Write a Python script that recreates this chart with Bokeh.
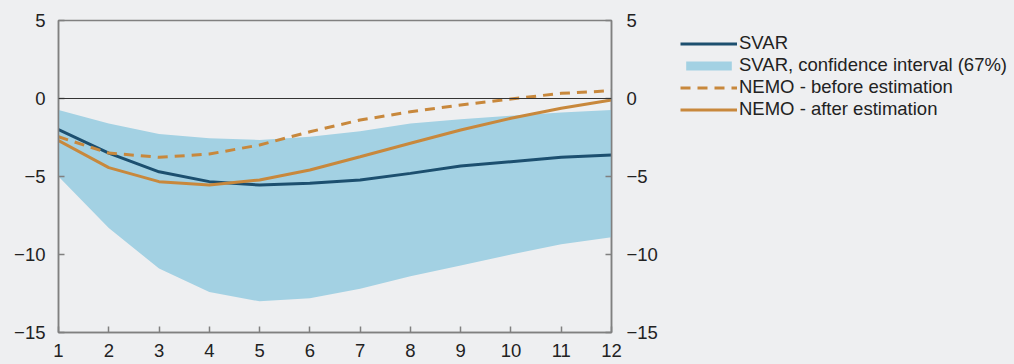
from bokeh.plotting import figure
from bokeh.layouts import row
from bokeh.models import Legend, LegendItem, LinearAxis, FixedTicker, Span, ColumnDataSource
from bokeh.embed import file_html
from bokeh.resources import INLINE

# ---- data ----
periods = list(range(1, 13))
svar = [-2.0, -3.5, -4.7, -5.33, -5.55, -5.44, -5.22, -4.8, -4.33, -4.05, -3.77, -3.62]
ci_upper = [-0.74, -1.6, -2.28, -2.55, -2.66, -2.45, -2.1, -1.6, -1.33, -1.1, -0.89, -0.74]
ci_lower = [-5.0, -8.3, -10.9, -12.4, -13.0, -12.8, -12.2, -11.4, -10.7, -10.0, -9.35, -8.9]
nemo_before = [-2.45, -3.5, -3.77, -3.56, -2.98, -2.13, -1.38, -0.85, -0.42, -0.03, 0.33, 0.5]
nemo_after = [-2.7, -4.43, -5.33, -5.55, -5.22, -4.58, -3.73, -2.87, -2.02, -1.27, -0.63, -0.1]
y_ticks = [-15, -10, -5, 0, 5]
y_tick_labels = ["\u221215", "\u221210", "\u22125", "0", "5"]
x_ticks = periods
x_tick_labels = [str(v) for v in periods]
legend_labels = ["SVAR", "SVAR, confidence interval (67%)",
                 "NEMO - before estimation", "NEMO - after estimation"]

BG = "#eeeff1"
DARK_BLUE = "#1c4f6f"
LIGHT_BLUE = "#a3d1e3"
ORANGE = "#c8883c"
FRAME = "#808080"
FONT = "Liberation Sans"
FS = "18.5px"

src = ColumnDataSource(dict(x=periods, svar=svar, lo=ci_lower, hi=ci_upper,
                            nb=nemo_before, na=nemo_after))

p = figure(width=672, height=364, x_range=(1, 12), y_range=(-15, 5),
           output_backend="svg", toolbar_location=None,
           min_border_left=58, min_border_right=61,
           min_border_top=20, min_border_bottom=32)
p.background_fill_color = BG
p.border_fill_color = BG
p.outline_line_color = FRAME
p.outline_line_width = 1.5
p.grid.visible = False

p.varea(x="x", y1="lo", y2="hi", source=src, fill_color=LIGHT_BLUE, fill_alpha=1.0)
p.add_layout(Span(location=0, dimension="width", line_color="#333333", line_width=1.2))
p.line(x="x", y="svar", source=src, line_color=DARK_BLUE, line_width=3)
p.line(x="x", y="nb", source=src, line_color=ORANGE, line_width=3, line_dash="10 7")
p.line(x="x", y="na", source=src, line_color=ORANGE, line_width=3)

def style_axis(ax, ticks, labels, standoff):
    ax.ticker = FixedTicker(ticks=ticks)
    ax.major_label_overrides = {t: l for t, l in zip(ticks, labels)}
    ax.major_tick_in = 6
    ax.major_tick_out = 0
    ax.minor_tick_line_color = None
    ax.major_tick_line_color = FRAME
    ax.major_tick_line_width = 1.5
    ax.axis_line_color = FRAME
    ax.axis_line_width = 1.5
    ax.major_label_text_font = FONT
    ax.major_label_text_font_size = FS
    ax.major_label_text_color = "#222222"
    ax.major_label_standoff = standoff

style_axis(p.xaxis[0], x_ticks, x_tick_labels, 11)
style_axis(p.yaxis[0], y_ticks, y_tick_labels, 13)
right_axis = LinearAxis()
style_axis(right_axis, y_ticks, y_tick_labels, 15)
p.add_layout(right_axis, "right")

# ---- legend panel (separate figure to the right; its series lie outside its range) ----
lg = figure(width=342, height=364, x_range=(100, 101), y_range=(100, 101),
            output_backend="svg", toolbar_location=None,
            x_axis_location=None, y_axis_location=None,
            min_border=0)
lg.background_fill_color = BG
lg.border_fill_color = BG
lg.outline_line_color = None
lg.grid.visible = False
r1 = lg.line(x="x", y="svar", source=src, line_color=DARK_BLUE, line_width=3)
r2 = lg.varea(x="x", y1="lo", y2="hi", source=src, fill_color=LIGHT_BLUE, fill_alpha=1.0)
r3 = lg.line(x="x", y="nb", source=src, line_color=ORANGE, line_width=3, line_dash="10 7")
r4 = lg.line(x="x", y="na", source=src, line_color=ORANGE, line_width=3)

legend = Legend(items=[
    LegendItem(label=legend_labels[0], renderers=[r1]),
    LegendItem(label=legend_labels[1], renderers=[r2]),
    LegendItem(label=legend_labels[2], renderers=[r3]),
    LegendItem(label=legend_labels[3], renderers=[r4]),
], location=(8, 212))
legend.background_fill_alpha = 0
legend.border_line_color = None
legend.padding = 0
legend.margin = 0
legend.spacing = 0
legend.glyph_width = 57
legend.glyph_height = 11
legend.label_height = 20
legend.label_standoff = 2
legend.label_text_font = FONT
legend.label_text_font_size = FS
legend.label_text_color = "#222222"
lg.add_layout(legend, "center")

layout = row(p, lg, spacing=0)

html = file_html(layout, INLINE)
html = html.replace("</head>", "<style>html, body { background: %s; }</style>\n</head>" % BG, 1)
open("out.html", "w").write(html)
